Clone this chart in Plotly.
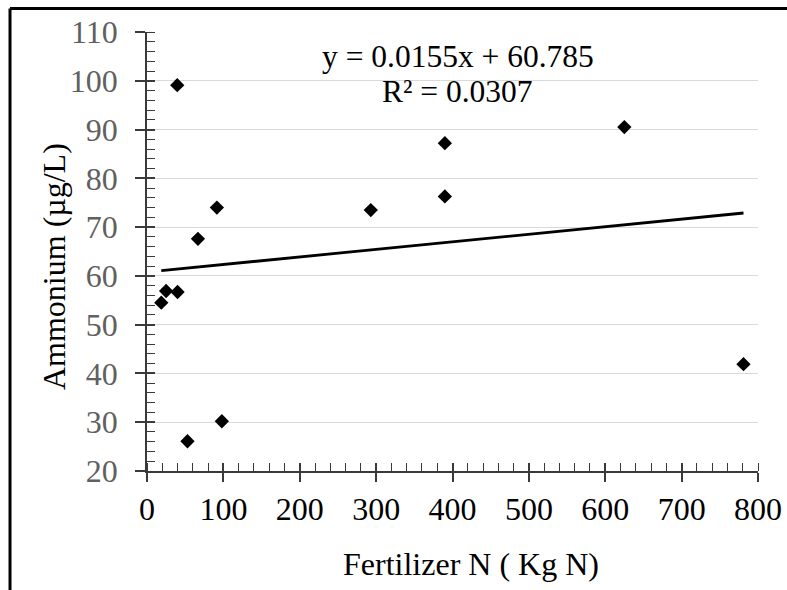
import plotly.graph_objects as go

# Data
fert_n = [18.7, 25, 40, 39.6, 53, 66.7, 91.5, 98, 293, 390, 390, 625, 781]
ammonium = [54.5, 56.9, 56.7, 99.1, 26.1, 67.6, 74.0, 30.2, 73.5, 87.2, 76.3, 90.5, 41.9]

slope = 0.0155
intercept = 60.785
eq_text = "y = 0.0155x + 60.785"
r2_text = "R² = 0.0307"

x_title = "Fertilizer N ( Kg N)"
y_title = "Ammonium (µg/L)"

FONT = "Liberation Serif, Times New Roman, serif"

trend_x = [min(fert_n), max(fert_n)]
trend_y = [slope * v + intercept for v in trend_x]

fig = go.Figure()
fig.add_trace(go.Scatter(x=trend_x, y=trend_y, mode="lines",
                         line=dict(color="black", width=2.8),
                         showlegend=False, hoverinfo="skip"))
fig.add_trace(go.Scatter(x=fert_n, y=ammonium, mode="markers",
                         marker=dict(symbol="diamond", size=11, color="black"),
                         showlegend=False))
# invisible trace to create overlay axes (inside half of major ticks)
fig.add_trace(go.Scatter(x=[None], y=[None], xaxis="x2", yaxis="y2",
                         showlegend=False, hoverinfo="skip"))

axis_color = "#3a3a3a"
fig.update_layout(
    width=787, height=590,
    margin=dict(l=147, r=29, t=32, b=118.5, autoexpand=False),
    paper_bgcolor="white", plot_bgcolor="white",
    font=dict(family=FONT, size=32, color="black"),
    xaxis=dict(range=[0, 800], dtick=100, tick0=0,
               showgrid=False, zeroline=False, automargin=False,
               showline=True, linecolor=axis_color, linewidth=1.5,
               ticks="outside", ticklen=9, tickwidth=1.5, tickcolor=axis_color,
               tickfont=dict(family=FONT, size=32, color="black"),
               minor=dict(dtick=20, ticks="inside", ticklen=8,
                          tickwidth=1.3, tickcolor=axis_color, showgrid=False)),
    yaxis=dict(range=[20, 110], dtick=10, tick0=20,
               showgrid=True, gridcolor="#d9d9d9", gridwidth=1.2,
               zeroline=False, automargin=False,
               showline=True, linecolor=axis_color, linewidth=1.5,
               ticks="outside", ticklen=10, tickwidth=1.5, tickcolor=axis_color,
               ticklabelstandoff=11,
               tickfont=dict(family=FONT, size=32, color="#606060"),
               minor=dict(dtick=2, ticks="inside", ticklen=8,
                          tickwidth=1.3, tickcolor=axis_color, showgrid=False)),
    xaxis2=dict(overlaying="x", range=[0, 800], dtick=100, tick0=0,
                showgrid=False, zeroline=False, showline=False, automargin=False,
                showticklabels=False, ticks="inside", ticklen=8,
                tickwidth=1.5, tickcolor=axis_color, side="bottom"),
    yaxis2=dict(overlaying="y", range=[20, 110], dtick=10, tick0=20,
                showgrid=False, zeroline=False, showline=False, automargin=False,
                showticklabels=False, ticks="inside", ticklen=8,
                tickwidth=1.5, tickcolor=axis_color, side="left"),
    annotations=[
        dict(text=eq_text, xref="paper", yref="paper", x=0.509, y=0.9438,
             xanchor="center", yanchor="middle", showarrow=False,
             font=dict(family=FONT, size=31.5, color="black")),
        dict(text=r2_text, xref="paper", yref="paper", x=0.5074, y=0.8642,
             xanchor="center", yanchor="middle", showarrow=False,
             font=dict(family=FONT, size=31.5, color="black")),
        dict(text=x_title, xref="paper", yref="paper", x=0.5295, y=-0.2127,
             xanchor="center", yanchor="middle", showarrow=False,
             font=dict(family=FONT, size=32, color="black")),
        dict(text=y_title, xref="paper", yref="paper", x=-0.1522, y=0.4646,
             xanchor="center", yanchor="middle", showarrow=False, textangle=-90,
             font=dict(family=FONT, size=32, color="black")),
    ],
    shapes=[
        dict(type="line", xref="paper", yref="paper",
             x0=-0.2242, x1=1.2, y0=1.0535, y1=1.0535,
             line=dict(color="black", width=3), layer="above"),
        dict(type="line", xref="paper", yref="paper",
             x0=-0.2242, x1=-0.2242, y0=-0.4, y1=1.0535,
             line=dict(color="black", width=3), layer="above"),
    ],
)

fig.write_html("out.html")
